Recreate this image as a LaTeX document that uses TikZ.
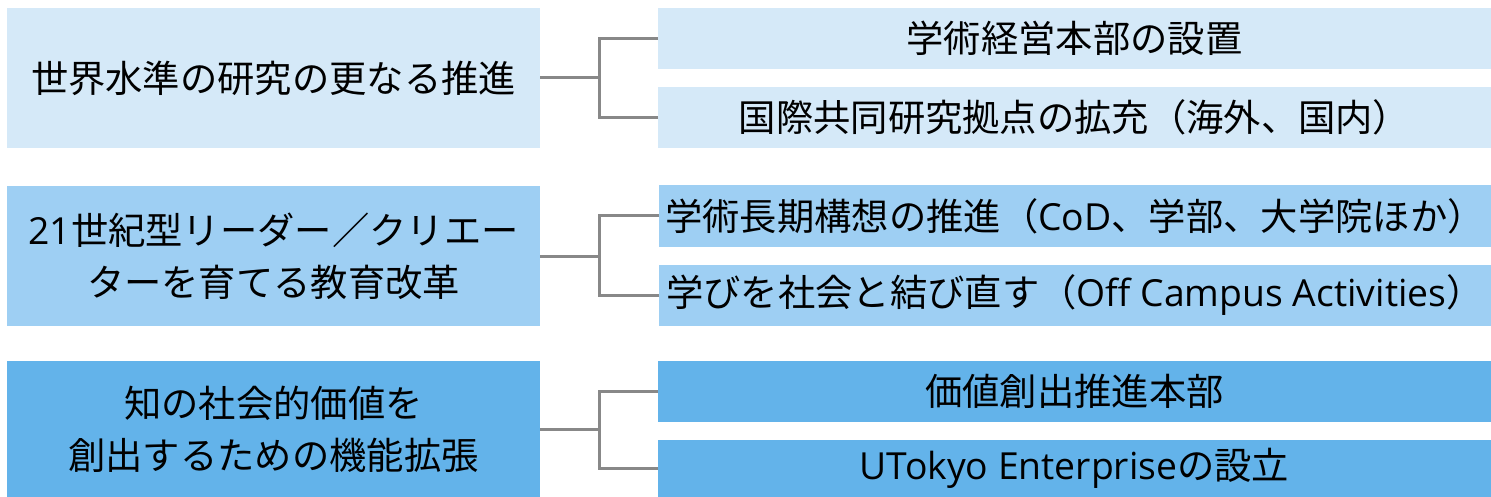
\documentclass[tikz,border=0pt]{standalone}
\usepackage{fontspec}
\setmainfont{Noto Sans CJK JP}
\newfontfamily\latfont{Open Sans}
\newcommand{\lat}[1]{{\latfont #1}}
\definecolor{cLight}{RGB}{213,233,248}
\definecolor{cMid}{RGB}{158,207,243}
\definecolor{cDark}{RGB}{99,179,234}
\definecolor{cLine}{RGB}{136,136,136}
\tikzset{
  box/.style={inner sep=0pt, outer sep=0pt, align=center, text=black,
    font=\fontsize{37.3}{52}\selectfont},
  leftbox/.style={box, minimum width=533pt},
  rightbox/.style={box, minimum width=833pt},
  conn/.style={draw=cLine, line width=3pt}
}
\begin{document}
\begin{tikzpicture}[x=1pt,y=-1pt]
\useasboundingbox (0,0) rectangle (1491,497);
% Row 1
\node[leftbox, fill=cLight, minimum height=140pt] (L1) at (273.5,78) {世界水準の研究の更なる推進};
\node[rightbox, fill=cLight, minimum height=61pt] (R1a) at (1074.5,38.5) {学術経営本部の設置};
\node[rightbox, fill=cLight, minimum height=61pt] (R1b) at (1074.5,117.5) {国際共同研究拠点の拡充（海外、国内）};
% Row 2
\node[leftbox, fill=cMid, minimum height=140pt] (L2) at (273.5,256) {\lat{21}世紀型リーダー／クリエー\\ターを育てる教育改革};
\node[rightbox, fill=cMid, minimum height=61pt, minimum width=832pt] (R2a) at (1075,216) {学術長期構想の推進（\lat{CoD}、学部、大学院ほか）};
\node[rightbox, fill=cMid, minimum height=61pt, minimum width=832pt] (R2b) at (1075,295) {学びを社会と結び直す（\lat{Off Campus Activities}）};
% Row 3
\node[leftbox, fill=cDark, minimum height=137pt] (L3) at (273.5,429.5) {知の社会的価値を\\創出するための機能拡張};
\node[rightbox, fill=cDark, minimum height=61pt] (R3a) at (1074.5,391.5) {価値創出推進本部};
\node[rightbox, fill=cDark, minimum height=57pt] (R3b) at (1074.5,468.5) {\lat{UTokyo Enterprise}の設立};
% junctions
\coordinate (J1) at (599,78);
\coordinate (J2) at (599,256);
\coordinate (J3) at (599,429.5);
\draw[conn] (L1.east) -- (J1);
\draw[conn] (R1a.west) -| (J1);
\draw[conn] (R1b.west) -| (J1);
\draw[conn] (L2.east) -- (J2);
\draw[conn] (R2a.west) -| (J2);
\draw[conn] (R2b.west) -| (J2);
\draw[conn] (L3.east) -- (J3);
\draw[conn] (R3a.west) -| (J3);
\draw[conn] (R3b.west) -| (J3);
\end{tikzpicture}
\end{document}
